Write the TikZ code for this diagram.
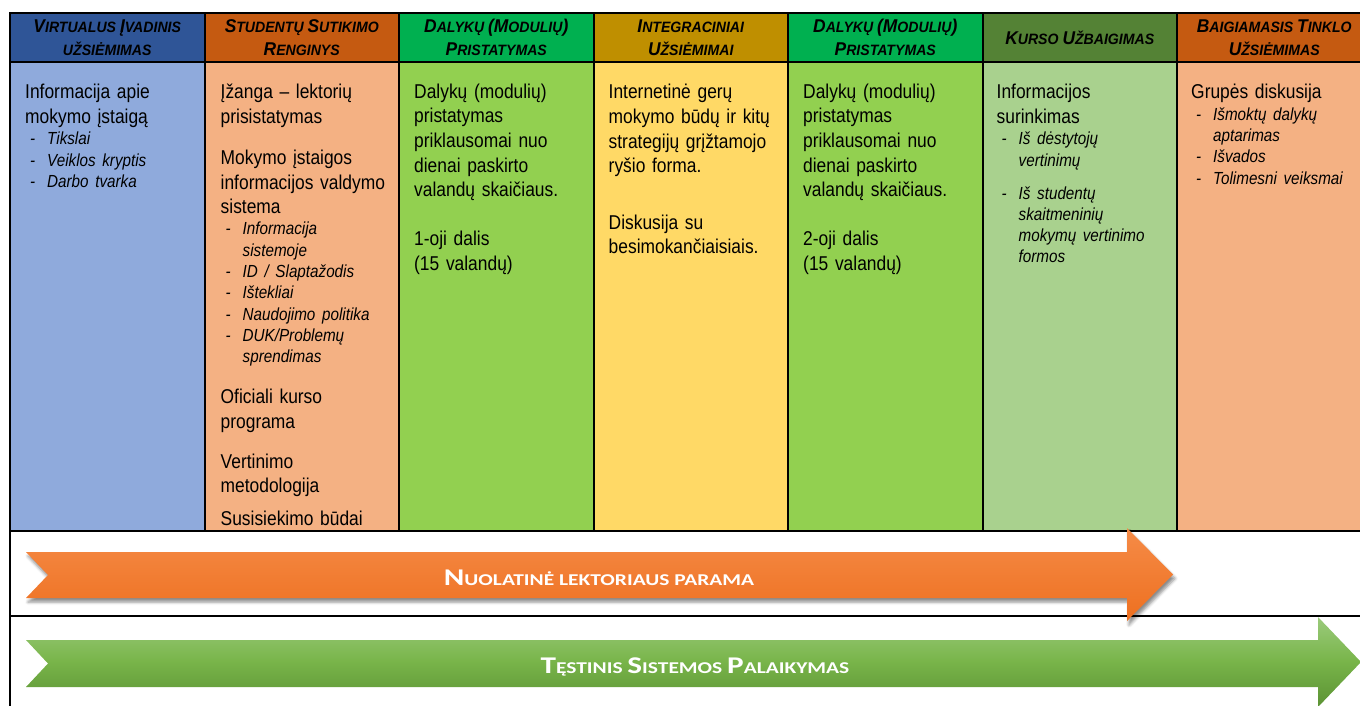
\documentclass[tikz,border=0pt]{standalone}
\usepackage{fontspec}
\setmainfont{Liberation Sans}[FakeStretch=0.87, WordSpace=0.85]
\newfontfamily\headfont{Liberation Sans}[FakeStretch=0.94]
\newfontfamily\arrowfont{Carlito}[FakeStretch=1.3]
\usetikzlibrary{positioning,shadows.blur}
\setlength\parindent{0pt}

\definecolor{hblue}{HTML}{2F5597}
\definecolor{bblue}{HTML}{8FAADC}
\definecolor{hrust}{HTML}{C55A11}
\definecolor{bpeach}{HTML}{F4B183}
\definecolor{hgreen}{HTML}{00B050}
\definecolor{bgreen}{HTML}{92D050}
\definecolor{hgold}{HTML}{BF8F00}
\definecolor{byellow}{HTML}{FFD966}
\definecolor{holive}{HTML}{548235}
\definecolor{bsage}{HTML}{A9D18E}
\definecolor{orangetop}{HTML}{F58B47}
\definecolor{orangebot}{HTML}{EE7020}
\definecolor{greentop}{HTML}{9BCB7C}
\definecolor{greenmid}{HTML}{78B449}
\definecolor{greenbot}{HTML}{5B9234}

% fake small caps
\newcommand\hsc[2]{{\fontsize{18.5}{23.4}\selectfont #1}{\fontsize{15}{23.4}\selectfont #2}}
\newcommand\asc[2]{{\fontsize{24}{24}\selectfont #1}{\fontsize{16.5}{24}\selectfont #2}}
\newcommand\mainsize{\fontsize{20}{24.6}\selectfont}
% list item, wrapped lines with \newline
\newcommand\itm[1]{\par{\fontsize{17.5}{21.3}\selectfont\itshape
  \hangindent=22pt\hangafter=1\noindent\hspace*{5pt}\makebox[17pt][l]{-}#1\par}}

\begin{document}
\begin{tikzpicture}[
x=1pt, y=-1pt,
cell/.style={draw=black, line width=2pt, outer sep=0pt, inner sep=0pt, minimum width=194.5pt},
headcell/.style={cell, minimum height=48.4pt, font=\headfont\bfseries\itshape\fontsize{15}{23.4}\selectfont, align=center},
bodycell/.style={cell, minimum height=469.5pt},
rowcell/.style={draw=black, line width=2pt, outer sep=0pt, inner sep=0pt, minimum width=1361.5pt, anchor=north west},
coltext/.style={inner sep=0pt, text width=175pt, font=\mainsize, execute at begin node={\raggedright}},
arrowtext/.style={inner sep=0pt, text=white, font=\arrowfont\bfseries\fontsize{16.5}{24}\selectfont, anchor=base}
]
\useasboundingbox (0,0) rectangle (1360,705);

% columns
\foreach \i/\hcol/\bcol/\htitle in {
  1/hblue/bblue/{\hsc{V}{IRTUALUS} \hsc{Į}{VADINIS}\\\hsc{}{UŽSIĖMIMAS}},
  2/hrust/bpeach/{\hsc{S}{TUDENTŲ} \hsc{S}{UTIKIMO}\\\hsc{R}{ENGINYS}},
  3/hgreen/bgreen/{\hsc{D}{ALYKŲ} \hsc{(M}{ODULIŲ}\hsc{)}{}\\\hsc{P}{RISTATYMAS}},
  4/hgold/byellow/{\hsc{I}{NTEGRACINIAI}\\\hsc{U}{ŽSIĖMIMAI}},
  5/hgreen/bgreen/{\hsc{D}{ALYKŲ} \hsc{(M}{ODULIŲ}\hsc{)}{}\\\hsc{P}{RISTATYMAS}},
  6/holive/bsage/{\hsc{K}{URSO} \hsc{U}{ŽBAIGIMAS}},
  7/hrust/bpeach/{\hsc{B}{AIGIAMASIS} \hsc{T}{INKLO}\\\hsc{U}{ŽSIĖMIMAS}}} {
  \node[headcell, fill=\hcol, anchor=north west] (h\i) at ({10+194.5*(\i-1)},13.3) {\htitle};
  \node[bodycell, fill=\bcol, below=0pt of h\i] (b\i) {};
}

% rows for the arrows
\node[rowcell, minimum height=85pt] (r2) at (b1.south west) {};
\node[rowcell, minimum height=104pt] (r3) at (r2.south west) {};

% column texts
\node[coltext, below right=22.5pt and 15pt of b1.north west] (t1) {
Informacija apie\\mokymo įstaigą
\itm{Tikslai}\itm{Veiklos kryptis}\itm{Darbo tvarka}};

\node[coltext, below right=22.5pt and 16pt of b2.north west] (t2) {
Įžanga – lektorių\\prisistatymas\par\vspace{16.3pt}
Mokymo įstaigos\\informacijos valdymo\\sistema
\itm{Informacija\newline sistemoje}\itm{ID / Slaptažodis}\itm{Ištekliai}
\itm{Naudojimo politika}\itm{DUK/Problemų\newline sprendimas}
\vspace{16.2pt}Oficiali kurso\\programa\par\vspace{15.6pt}
Vertinimo\\metodologija\par\vspace{8pt}
Susisiekimo būdai};

\node[coltext, below right=22pt and 15pt of b3.north west] (t3) {
Dalykų (modulių)\\pristatymas\\priklausomai nuo\\dienai paskirto\\valandų skaičiaus.
\par\vspace{24.6pt}1-oji dalis\\(15 valandų)};

\node[coltext, below right=22.5pt and 15pt of b4.north west] (t4) {
Internetinė gerų\\mokymo būdų ir kitų\\strategijų grįžtamojo\\ryšio forma.
\par\vspace{32pt}Diskusija su\\besimokančiaisiais.};

\node[coltext, below right=22pt and 15pt of b5.north west] (t5) {
Dalykų (modulių)\\pristatymas\\priklausomai nuo\\dienai paskirto\\valandų skaičiaus.
\par\vspace{24.6pt}2-oji dalis\\(15 valandų)};

\node[coltext, below right=22.5pt and 14pt of b6.north west] (t6) {
Informacijos\\surinkimas
\itm{Iš dėstytojų\newline vertinimų}\vspace{11.7pt}
\itm{Iš studentų\newline skaitmeninių\newline mokymų vertinimo\newline formos}};

\node[coltext, below right=22.5pt and 14pt of b7.north west] (t7) {
Grupės diskusija
\itm{Išmoktų dalykų\newline aptarimas}\itm{Išvados}\itm{Tolimesni veiksmai}};

% arrows
\path[blur shadow={shadow xshift=2pt, shadow yshift=-4pt, shadow blur radius=3pt, shadow opacity=45},
  top color=orangetop, bottom color=orangebot]
  (26,552) -- (1127,552) -- (1127,528) -- (1173,574.5) -- (1127,621) -- (1127,598)
  -- (26,598) -- (48,575) -- cycle;
\path[top color=greentop, bottom color=greenbot, middle color=greenmid]
  (26,640) -- (1318,640) -- (1318,617) -- (1361,662) -- (1318,707) -- (1318,687)
  -- (26,687) -- (48,663.5) -- cycle;

\node[arrowtext] (support) at (599,585.7) {\asc{N}{UOLATINĖ LEKTORIAUS PARAMA}};
\node[arrowtext] (upkeep) at (695,673.3) {\asc{T}{ĘSTINIS} \asc{S}{ISTEMOS} \asc{P}{ALAIKYMAS}};
\end{tikzpicture}
\end{document}
